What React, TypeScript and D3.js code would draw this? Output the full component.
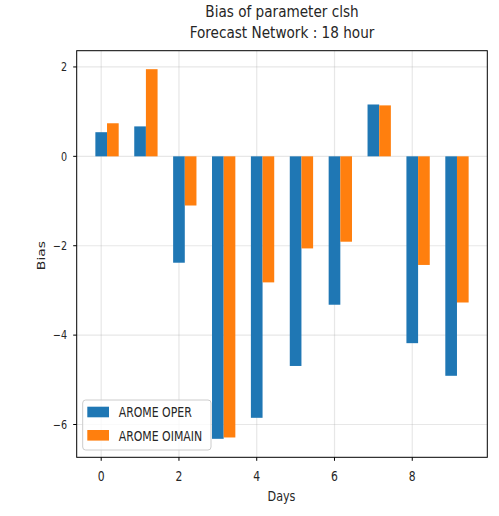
import React from "react";
import * as d3 from "d3";

const days = [0, 1, 2, 3, 4, 5, 6, 7, 8, 9];
const aromeOper = [0.54, 0.67, -2.38, -6.32, -5.85, -4.69, -3.32, 1.16, -4.18, -4.91];
const aromeOimain = [0.74, 1.95, -1.1, -6.29, -2.82, -2.06, -1.91, 1.14, -2.43, -3.27];
const seriesNames = ["AROME OPER", "AROME OIMAIN"];
const seriesColors = ["#1f77b4", "#ff7f0e"];
const xTicks = [0, 2, 4, 6, 8];
const yTicks = [-6, -4, -2, 0, 2];
const titleLines = ["Bias of parameter clsh", "Forecast Network : 18 hour"];

const W = 499;
const H = 516;
const left = 76.7;
const right = 487.3;
const top = 50.7;
const bottom = 457.3;
const barW = 0.3;
const SX = 0.8;
const FONT = "'DejaVu Sans', sans-serif";

export default function App() {
  const allVals = [...aromeOper, ...aromeOimain, 0];
  const ymin = d3.min(allVals)!;
  const ymax = d3.max(allVals)!;
  const ypad = (ymax - ymin) * 0.05;
  const y = d3.scaleLinear().domain([ymin - ypad, ymax + ypad]).range([bottom, top]);
  const xmin = days[0] - barW / 2;
  const xmax = days[days.length - 1] + barW * 1.5;
  const xpad = (xmax - xmin) * 0.05;
  const x = d3.scaleLinear().domain([xmin - xpad, xmax + xpad]).range([left, right]);

  const series = [aromeOper, aromeOimain];

  const T = (props: any) => {
    const { x: tx, y: ty, children, rotate, size, anchor, sx } = props;
    const s = sx ?? SX;
    const tr = rotate
      ? `translate(${tx},${ty}) rotate(-90) scale(1,${s})`
      : `translate(${tx},${ty}) scale(${s},1)`;
    return (
      <text
        transform={tr}
        fontFamily={FONT}
        fontSize={size}
        textAnchor={anchor || "start"}
        fill="#262626"
      >
        {children}
      </text>
    );
  };

  return (
    <svg width={W} height={H} style={{ position: "absolute", left: 0, top: 0, background: "#fff" }}>
      <rect x={0} y={0} width={W} height={H} fill="#fff" />
      {/* grid */}
      {xTicks.map((t) => (
        <line key={"gx" + t} x1={x(t)} x2={x(t)} y1={top} y2={bottom} stroke="#b0b0b0" strokeOpacity={0.3} strokeWidth={1.2} />
      ))}
      {yTicks.map((t) => (
        <line key={"gy" + t} x1={left} x2={right} y1={y(t)} y2={y(t)} stroke="#b0b0b0" strokeOpacity={0.3} strokeWidth={1.2} />
      ))}
      {/* bars */}
      {series.map((vals, si) =>
        vals.map((v, i) => {
          const x0 = x(days[i] - barW / 2 + si * barW);
          const x1 = x(days[i] + barW / 2 + si * barW);
          const y0 = y(Math.max(0, v));
          const y1 = y(Math.min(0, v));
          return (
            <rect key={si + "-" + i} x={x0} y={y0} width={x1 - x0} height={y1 - y0} fill={seriesColors[si]} />
          );
        })
      )}
      {/* spines */}
      <rect x={left} y={top} width={right - left} height={bottom - top} fill="none" stroke="#000" strokeWidth={1} />
      {/* ticks */}
      {xTicks.map((t) => (
        <g key={"tx" + t}>
          <line x1={x(t)} x2={x(t)} y1={bottom} y2={bottom + 3.5} stroke="#000" strokeWidth={1} />
          <T x={x(t)} y={481} size={13.5} anchor="middle">{String(t)}</T>
        </g>
      ))}
      {yTicks.map((t) => (
        <g key={"ty" + t}>
          <line x1={left - 3.5} x2={left} y1={y(t)} y2={y(t)} stroke="#000" strokeWidth={1} />
          <T x={67} y={y(t) + 4.3} size={12} anchor="end">{t < 0 ? "\u2212" + Math.abs(t) : String(t)}</T>
        </g>
      ))}
      {/* labels */}
      <T x={281.5} y={501} size={14} anchor="middle">Days</T>
      <T x={45} y={255.5} size={14} anchor="middle" rotate>Bias</T>
      <T x={282} y={16.7} size={16.4} anchor="middle" sx={0.83}>{titleLines[0]}</T>
      <T x={282} y={37.5} size={16.4} anchor="middle" sx={0.83}>{titleLines[1]}</T>
      {/* legend */}
      <rect x={82.7} y={400} width={128.3} height={50} rx={3} fill="#fff" fillOpacity={0.8} stroke="#cccccc" strokeWidth={1} />
      {seriesNames.map((n, i) => (
        <g key={n}>
          <rect x={87.3} y={406.7 + i * 23.3} width={21.7} height={10.6} fill={seriesColors[i]} />
          <T x={118.7} y={417.3 + i * 23.3} size={14} sx={0.78}>{n}</T>
        </g>
      ))}
    </svg>
  );
}
